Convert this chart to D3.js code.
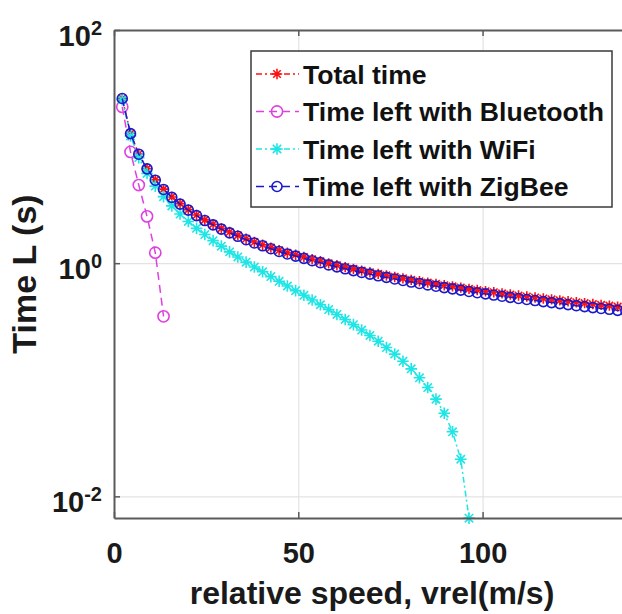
<!DOCTYPE html>
<html>
<head>
<meta charset="utf-8">
<script src="https://cdn.jsdelivr.net/npm/d3@7"></script>
<style>
body { margin: 0; background: #fff; }
svg { display: block; font-family: "Liberation Sans", Arial, sans-serif; font-weight: bold; }
</style>
</head>
<body>
<svg width="622" height="614"></svg>
<script>
// relative speed (m/s), same grid for every series
var speeds = [2.24, 4.48, 6.72, 8.96, 11.2, 13.44, 15.68, 17.92, 20.16, 22.4,
	24.64, 26.88, 29.12, 31.36, 33.6, 35.84, 38.08, 40.32, 42.56, 44.8,
	47.04, 49.28, 51.52, 53.76, 56, 58.24, 60.48, 62.72, 64.96, 67.2,
	69.44, 71.68, 73.92, 76.16, 78.4, 80.64, 82.88, 85.12, 87.36, 89.6,
	91.84, 94.08, 96.32, 98.56, 100.8, 103.04, 105.28, 107.52, 109.76, 112,
	114.24, 116.48, 118.72, 120.96, 123.2, 125.44, 127.68, 129.92, 132.16, 134.4,
	136.64, 138.88];

var totalTime = [25.89, 12.95, 8.63, 6.47, 5.18, 4.32, 3.70, 3.24, 2.88, 2.59,
	2.35, 2.16, 1.99, 1.85, 1.73, 1.62, 1.52, 1.44, 1.36, 1.29,
	1.23, 1.18, 1.13, 1.08, 1.04, 0.996, 0.959, 0.925, 0.893, 0.863,
	0.835, 0.809, 0.785, 0.762, 0.740, 0.719, 0.700, 0.681, 0.664, 0.647,
	0.632, 0.617, 0.602, 0.588, 0.575, 0.563, 0.551, 0.539, 0.528, 0.518,
	0.508, 0.498, 0.489, 0.480, 0.471, 0.462, 0.454, 0.446, 0.439, 0.432,
	0.424, 0.418];

var bluetoothLeft = [21.9, 9.0, 4.68, 2.52, 1.23, 0.35];

var wifiLeft = [25.30, 12.35, 8.04, 5.88, 4.58, 3.72, 3.10, 2.64, 2.28, 1.99,
	1.76, 1.56, 1.40, 1.25, 1.13, 1.02, 0.927, 0.843, 0.767, 0.699,
	0.637, 0.581, 0.530, 0.483, 0.440, 0.400, 0.363, 0.329, 0.297, 0.267,
	0.240, 0.214, 0.189, 0.166, 0.144, 0.124, 0.104, 0.0857, 0.0682, 0.0516,
	0.0358, 0.0208, 0.0065];

var zigbeeLeft = [25.86, 12.92, 8.60, 6.44, 5.15, 4.29, 3.67, 3.21, 2.85, 2.56,
	2.32, 2.13, 1.96, 1.82, 1.70, 1.59, 1.49, 1.41, 1.33, 1.26,
	1.20, 1.15, 1.10, 1.05, 1.01, 0.966, 0.929, 0.895, 0.863, 0.833,
	0.805, 0.779, 0.755, 0.732, 0.710, 0.689, 0.670, 0.651, 0.634, 0.617,
	0.602, 0.587, 0.572, 0.558, 0.545, 0.533, 0.521, 0.509, 0.498, 0.488,
	0.478, 0.468, 0.459, 0.450, 0.441, 0.432, 0.424, 0.416, 0.409, 0.402,
	0.394, 0.388];

var seriesNames = ["Total time", "Time left with Bluetooth", "Time left with WiFi", "Time left with ZigBee"];
var xTicks = [0, 50, 100];
var yTicks = [0.01, 1, 100];
var yTickExp = ["-2", "0", "2"];

// plot box (the right side runs past the picture edge, as in the figure)
var pLeft = 114, pRight = 630, pTop = 30, pBottom = 518;

var x = d3.scaleLinear().domain([0, 140]).range([pLeft, pRight]);
var y = d3.scaleLog().domain([0.00652, 100]).range([pBottom, pTop]);

var series = [
	{ name: seriesNames[0], values: totalTime, color: "#ff1010", dash: "6,3,2,3", marker: "star", s: 5.2 },
	{ name: seriesNames[1], values: bluetoothLeft, color: "#e040e0", dash: "8,5", marker: "circle", r: 5.6 },
	{ name: seriesNames[2], values: wifiLeft, color: "#1ee6e6", dash: "6,3,2,3", marker: "star", s: 5.8 },
	{ name: seriesNames[3], values: zigbeeLeft, color: "#1a1acc", dash: "8,5", marker: "circle", r: 5 }
];

function starPath(s) {
	var a = s * 0.72;
	return "M" + (-s) + ",0H" + s + "M0," + (-s) + "V" + s +
		"M" + (-a) + "," + (-a) + "L" + a + "," + a +
		"M" + (-a) + "," + a + "L" + a + "," + (-a);
}

function drawMarker(g, d) {
	if (d.marker == "star") {
		g.append("path").attr("d", starPath(d.s))
			.attr("stroke", d.color).attr("stroke-width", 1.6).attr("fill", "none");
	} else {
		g.append("circle").attr("r", d.r)
			.attr("stroke", d.color).attr("stroke-width", 1.6).attr("fill", "none");
	}
}

var svg = d3.select("svg");
svg.append("rect").attr("width", 622).attr("height", 614).attr("fill", "#fff");

//grid lines
svg.append("g")
	.attr("class", "grid")
	.attr("transform", "translate(0," + pBottom + ")")
	.call(d3.axisBottom(x).tickValues([50, 100]).tickSize(-(pBottom - pTop)).tickFormat(""))
	.call(function (g) { g.select(".domain").remove(); });
svg.append("g")
	.attr("class", "grid")
	.attr("transform", "translate(" + pLeft + ",0)")
	.call(d3.axisLeft(y).tickValues([0.01, 1]).tickSize(-(pRight - pLeft)).tickFormat(""))
	.call(function (g) { g.select(".domain").remove(); });
svg.selectAll(".grid line").attr("stroke", "#e3e3e3").attr("stroke-width", 1.2);

//lines and markers
var line = d3.line()
	.x(function (d, i) { return x(speeds[i]); })
	.y(function (d) { return y(d); });

series.forEach(function (s) {
	svg.append("path")
		.datum(s.values)
		.attr("d", line)
		.attr("fill", "none")
		.attr("stroke", s.color)
		.attr("stroke-width", 1.5)
		.attr("stroke-dasharray", s.dash);

	svg.append("g").selectAll("g")
		.data(s.values)
		.enter().append("g")
		.attr("transform", function (d, i) { return "translate(" + x(speeds[i]) + "," + y(d) + ")"; })
		.each(function () { drawMarker(d3.select(this), s); });
});

//axes, ticks pointing inwards
var axisColor = "#5a5a5a";
var xAxis = svg.append("g")
	.attr("class", "axis")
	.attr("transform", "translate(0," + pBottom + ")")
	.call(d3.axisBottom(x).tickValues(xTicks).tickSize(-6).tickSizeOuter(0).tickPadding(24));
xAxis.selectAll("text")
	.attr("font-size", "29px").attr("font-weight", "bold")
	.attr("font-family", "'Liberation Sans', Arial, sans-serif").attr("fill", "#1a1a1a");

svg.append("g")
	.attr("class", "axis")
	.attr("transform", "translate(0," + pTop + ")")
	.call(d3.axisTop(x).tickValues(xTicks).tickSize(-6).tickSizeOuter(0).tickFormat(""));

svg.append("g")
	.attr("class", "axis")
	.attr("transform", "translate(" + pLeft + ",0)")
	.call(d3.axisLeft(y).tickValues(yTicks).tickSize(-6).tickSizeOuter(0).tickFormat(""));

svg.append("g")
	.attr("class", "axis")
	.attr("transform", "translate(" + pRight + ",0)")
	.call(d3.axisRight(y).tickValues(yTicks).tickSize(-6).tickSizeOuter(0).tickFormat(""));

svg.selectAll(".axis .domain").attr("stroke", axisColor).attr("stroke-width", 2);
svg.selectAll(".axis .tick line").attr("stroke", axisColor).attr("stroke-width", 1.5);

//y tick labels 10^n
var yLabels = svg.append("g").selectAll("text")
	.data(yTicks)
	.enter().append("text")
	.attr("x", 102)
	.attr("y", function (d) { return y(d) + 16; })
	.attr("text-anchor", "end")
	.attr("fill", "#1a1a1a")
	.attr("font-size", "29px");
yLabels.append("tspan").text("10");
yLabels.append("tspan")
	.attr("dy", -11)
	.attr("font-size", "20px")
	.text(function (d, i) { return yTickExp[i]; });

//axis titles
svg.append("text")
	.attr("x", (pLeft + pRight) / 2)
	.attr("y", 604)
	.attr("text-anchor", "middle")
	.attr("font-size", "32px")
	.attr("fill", "#1a1a1a")
	.text("relative speed, vrel(m/s)");

svg.append("text")
	.attr("transform", "translate(36," + ((pTop + pBottom) / 2) + ") rotate(-90)")
	.attr("text-anchor", "middle")
	.attr("font-size", "34px")
	.attr("fill", "#1a1a1a")
	.text("Time L (s)");

//legend
var legend = svg.append("g");
legend.append("rect")
	.attr("x", 251).attr("y", 51)
	.attr("width", 361).attr("height", 156)
	.attr("fill", "#fff")
	.attr("stroke", "#3a3a3a")
	.attr("stroke-width", 1.5);

var rows = legend.selectAll("g.row")
	.data(series)
	.enter().append("g")
	.attr("class", "row")
	.attr("transform", function (d, i) { return "translate(0," + (74 + i * 37.5) + ")"; });

rows.append("line")
	.attr("x1", 256).attr("x2", 299)
	.attr("stroke", function (d) { return d.color; })
	.attr("stroke-width", 1.4)
	.attr("stroke-dasharray", function (d) { return d.dash; });
rows.append("g")
	.attr("transform", "translate(277,0)")
	.each(function (d) { drawMarker(d3.select(this), d); });
rows.append("text")
	.attr("x", 303)
	.attr("y", 9.5)
	.attr("font-size", "26.6px")
	.attr("fill", "#111")
	.text(function (d) { return d.name; });
</script>
</body>
</html>
